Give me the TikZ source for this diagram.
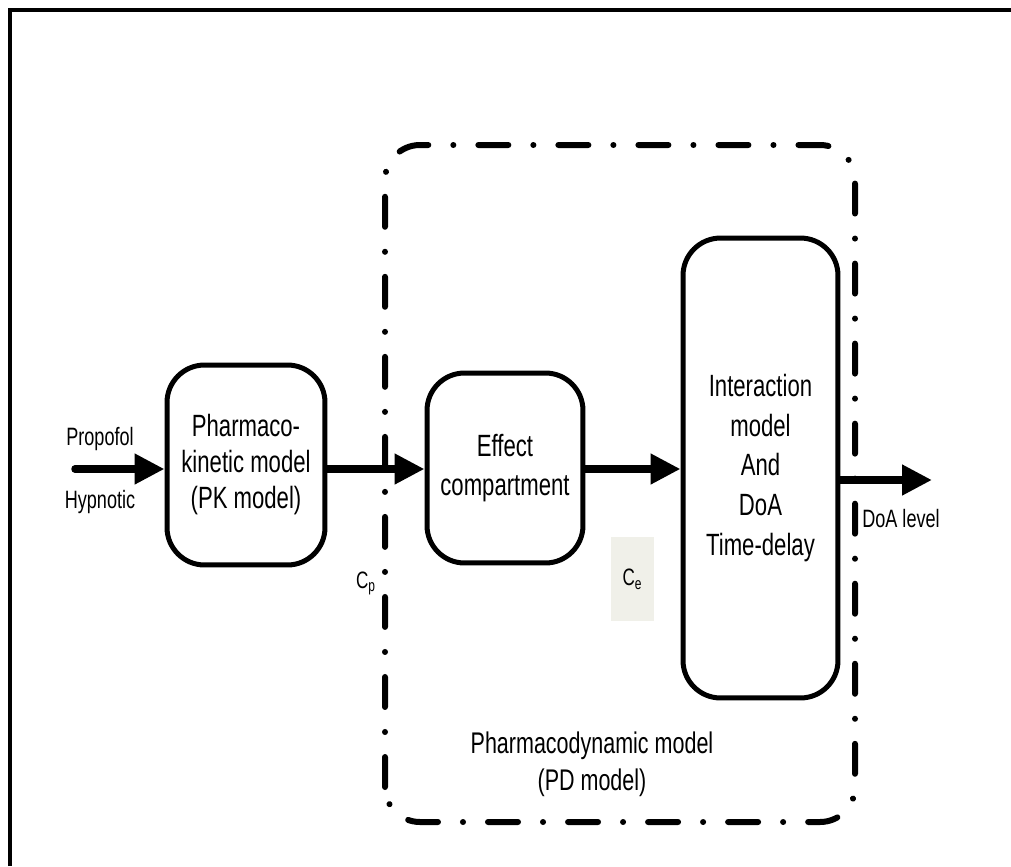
\documentclass[tikz,border=0pt]{standalone}
\usepackage{fontspec}
\setmainfont{Liberation Sans}[FakeStretch=0.72]
\usepackage{xcolor}
\definecolor{CeGrey}{RGB}{240, 240, 233}
\usepackage{tikz}
\usetikzlibrary{arrows.meta, positioning}

\begin{document}
\begin{tikzpicture}[
  x=0.02cm, y=-0.02cm,
  modelbox/.style={rectangle, rounded corners=0.75cm, draw=black,
    line width=0.1cm, align=center,
    font=\fontsize{17.5}{22.5}\selectfont},
  pdline/.style={line width=0.12cm, line cap=round, rounded corners=0.7cm,
    dash pattern=on 0.6cm off 0.5cm on 0.001cm off 0.5cm},
  lbl/.style={font=\fontsize{14.3}{17}\selectfont, anchor=base},
  arr/.style={-{Triangle[length=0.6cm, width=0.58cm]}, line width=0.15cm,
    line cap=round}
]
  \useasboundingbox (0,0) rectangle (1011,866);
  \draw[line width=0.08cm] (10,866) -- (10,10) -- (1011,10);

  % PD region
  \draw[pdline] (385,822) rectangle (855,145);

  \node[modelbox, minimum width=3.16cm, minimum height=4cm,
    font=\fontsize{17.5}{20.5}\selectfont] (pk) at (246,465)
    {Pharmaco-\\kinetic model\\(PK model)};
  \node[modelbox, minimum width=3.12cm, minimum height=3.8cm] (eff) at (505,468)
    {Effect\\compartment};
  \node[modelbox, minimum width=3.1cm, minimum height=9.2cm] (inter) at (760.5,468)
    {Interaction\\model\\And\\DoA\\Time-delay};

  \coordinate (drugin) at (75,469);
  \coordinate (doaout) at (932,480);

  \draw[arr] (drugin) -- (pk.west |- drugin);
  \draw[arr] (pk.east |- drugin) -- (eff.west |- drugin);
  \draw[arr] (eff.east |- drugin) -- (inter.west |- drugin);
  \draw[arr] (inter.east |- doaout) -- (doaout);

  \node[lbl] (propofol) at (100,445) {Propofol};
  \node[lbl] (hypnotic) at (100,508) {Hypnotic};
  \node[lbl, font=\fontsize{13.5}{16}\selectfont] (cp) at (366,588) {C\textsubscript{p}};
  \node[fill=CeGrey, minimum width=0.86cm, minimum height=1.68cm, inner sep=0pt,
    font=\fontsize{13.5}{16}\selectfont] (ce) at (632.5,579) {C\textsubscript{e}};
  \node[lbl] (doalevel) at (901,527) {DoA level};
  \node[align=center, font=\fontsize{17}{21}\selectfont] (pdlabel) at (592,764)
    {Pharmacodynamic model\\(PD model)};
\end{tikzpicture}
\end{document}
